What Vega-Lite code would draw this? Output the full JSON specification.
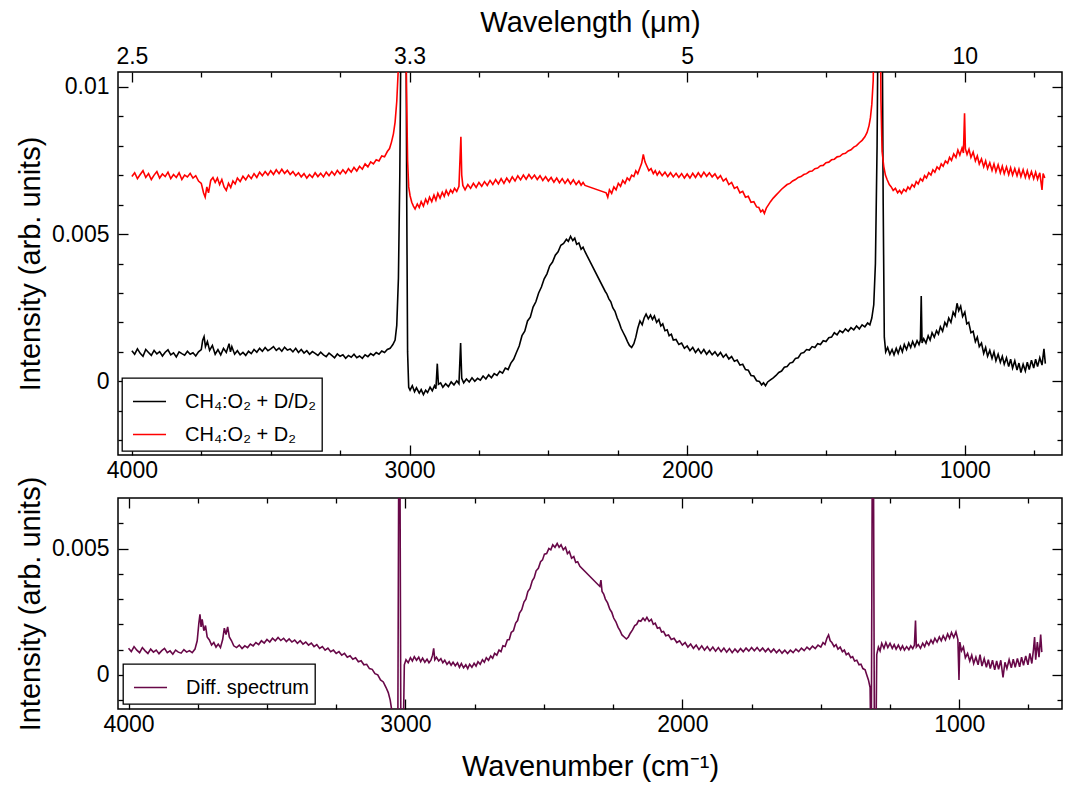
{
"$schema": "https://vega.github.io/schema/vega-lite/v6.json",
"background": "white",
"padding": {"left": 15, "top": 7, "right": 5, "bottom": 5},
"config": {
  "view": {"stroke": "black", "strokeWidth": 1.5},
  "font": "Liberation Sans",
  "axis": {"domain": false, "grid": false, "tickColor": "black", "tickWidth": 1.3, "labelColor": "black", "labelFont": "Liberation Sans", "labelFontSize": 23, "titleFont": "Liberation Sans", "titleFontSize": 29, "titleFontWeight": "normal", "titleColor": "black", "labelFlush": false, "labelOverlap": false},
  "legend": {"orient": "bottom-left", "offset": 4, "strokeColor": "black", "strokeWidth": 1.3, "fillColor": "white", "padding": 6, "symbolOffset": 4, "symbolType": "stroke", "symbolSize": 1090, "symbolStrokeWidth": 1.5, "labelFont": "Liberation Sans", "labelFontSize": 20, "labelColor": "black", "labelLimit": 400, "labelOffset": 18, "rowPadding": 5, "cornerRadius": 0}
},
"datasets": {
"black": [
{"w":4000,"v":0.00104},{"w":3990,"v":0.00092},{"w":3980,"v":0.00110},{"w":3970,"v":0.00095},{"w":3960,"v":0.00085},{"w":3950,"v":0.00108},{"w":3940,"v":0.00098},{"w":3930,"v":0.00088},{"w":3920,"v":0.00105},{"w":3910,"v":0.00093},{"w":3900,"v":0.00101},{"w":3890,"v":0.00086},{"w":3880,"v":0.00099},{"w":3870,"v":0.00107},{"w":3860,"v":0.00090},{"w":3850,"v":0.00097},{"w":3840,"v":0.00083},{"w":3830,"v":0.00100},{"w":3820,"v":0.00094},{"w":3810,"v":0.00089},{"w":3800,"v":0.00102},{"w":3790,"v":0.00092},{"w":3780,"v":0.00097},{"w":3770,"v":0.00086},{"w":3760,"v":0.00100},{"w":3750,"v":0.00108},{"w":3745,"v":0.00140},{"w":3740,"v":0.00152},{"w":3735,"v":0.00118},{"w":3728,"v":0.00135},{"w":3720,"v":0.00105},{"w":3710,"v":0.00122},{"w":3700,"v":0.00092},{"w":3690,"v":0.00108},{"w":3680,"v":0.00090},{"w":3670,"v":0.00112},{"w":3660,"v":0.00098},{"w":3650,"v":0.00128},{"w":3645,"v":0.00100},{"w":3640,"v":0.00118},{"w":3630,"v":0.00092},{"w":3620,"v":0.00104},{"w":3610,"v":0.00090},{"w":3600,"v":0.00098},{"w":3590,"v":0.00088},{"w":3580,"v":0.00102},{"w":3570,"v":0.00094},{"w":3560,"v":0.00108},{"w":3550,"v":0.00099},{"w":3540,"v":0.00112},{"w":3530,"v":0.00102},{"w":3520,"v":0.00115},{"w":3510,"v":0.00104},{"w":3500,"v":0.00110},{"w":3490,"v":0.00118},{"w":3480,"v":0.00105},{"w":3470,"v":0.00113},{"w":3460,"v":0.00102},{"w":3450,"v":0.00116},{"w":3440,"v":0.00106},{"w":3430,"v":0.00110},{"w":3420,"v":0.00100},{"w":3410,"v":0.00112},{"w":3400,"v":0.00098},{"w":3390,"v":0.00108},{"w":3380,"v":0.00096},{"w":3370,"v":0.00104},{"w":3360,"v":0.00092},{"w":3350,"v":0.00101},{"w":3340,"v":0.00095},{"w":3330,"v":0.00088},{"w":3320,"v":0.00099},{"w":3310,"v":0.00090},{"w":3300,"v":0.00084},{"w":3290,"v":0.00096},{"w":3280,"v":0.00088},{"w":3270,"v":0.00080},{"w":3260,"v":0.00093},{"w":3250,"v":0.00085},{"w":3240,"v":0.00090},{"w":3230,"v":0.00078},{"w":3220,"v":0.00088},{"w":3210,"v":0.00082},{"w":3200,"v":0.00092},{"w":3190,"v":0.00080},{"w":3180,"v":0.00086},{"w":3170,"v":0.00078},{"w":3160,"v":0.00090},{"w":3150,"v":0.00084},{"w":3140,"v":0.00094},{"w":3130,"v":0.00088},{"w":3120,"v":0.00098},{"w":3110,"v":0.00092},{"w":3100,"v":0.00103},{"w":3090,"v":0.00098},{"w":3080,"v":0.00108},{"w":3070,"v":0.00112},{"w":3060,"v":0.00125},{"w":3052,"v":0.00140},{"w":3046,"v":0.00190},{"w":3040,"v":0.00350},{"w":3035,"v":0.00700},{"w":3030,"v":0.01300},{"w":3024,"v":0.02000},{"w":3018,"v":0.02000},{"w":3013,"v":0.01300},{"w":3010,"v":0.00600},{"w":3007,"v":0.00100},{"w":3003,"v":-0.00020},{"w":2998,"v":-0.00030},{"w":2990,"v":-0.00015},{"w":2982,"v":-0.00035},{"w":2975,"v":-0.00022},{"w":2965,"v":-0.00040},{"w":2958,"v":-0.00028},{"w":2950,"v":-0.00045},{"w":2942,"v":-0.00030},{"w":2935,"v":-0.00038},{"w":2926,"v":-0.00020},{"w":2918,"v":-0.00032},{"w":2910,"v":-0.00015},{"w":2905,"v":-0.00025},{"w":2900,"v":0.00060},{"w":2896,"v":-0.00010},{"w":2888,"v":-0.00005},{"w":2880,"v":-0.00020},{"w":2870,"v":-0.00008},{"w":2860,"v":-0.00018},{"w":2850,"v":-0.00002},{"w":2840,"v":-0.00012},{"w":2830,"v":0.00002},{"w":2822,"v":-0.00008},{"w":2816,"v":0.00130},{"w":2812,"v":0.00010},{"w":2805,"v":-0.00005},{"w":2795,"v":0.00008},{"w":2785,"v":-0.00002},{"w":2775,"v":0.00012},{"w":2765,"v":0.00000},{"w":2755,"v":0.00010},{"w":2745,"v":0.00004},{"w":2735,"v":0.00018},{"w":2725,"v":0.00008},{"w":2715,"v":0.00022},{"w":2705,"v":0.00012},{"w":2695,"v":0.00026},{"w":2685,"v":0.00020},{"w":2675,"v":0.00034},{"w":2665,"v":0.00028},{"w":2655,"v":0.00045},{"w":2645,"v":0.00040},{"w":2635,"v":0.00062},{"w":2625,"v":0.00075},{"w":2615,"v":0.00098},{"w":2605,"v":0.00120},{"w":2595,"v":0.00155},{"w":2585,"v":0.00170},{"w":2575,"v":0.00205},{"w":2565,"v":0.00218},{"w":2555,"v":0.00252},{"w":2545,"v":0.00270},{"w":2535,"v":0.00300},{"w":2525,"v":0.00320},{"w":2515,"v":0.00348},{"w":2505,"v":0.00365},{"w":2495,"v":0.00392},{"w":2485,"v":0.00405},{"w":2475,"v":0.00428},{"w":2465,"v":0.00440},{"w":2455,"v":0.00462},{"w":2445,"v":0.00468},{"w":2435,"v":0.00482},{"w":2428,"v":0.00475},{"w":2420,"v":0.00492},{"w":2412,"v":0.00478},{"w":2405,"v":0.00486},{"w":2398,"v":0.00465},{"w":2390,"v":0.00470},{"w":2382,"v":0.00448},{"w":2375,"v":0.00455},{"w":2368,"v":0.00440},{"w":2295,"v":0.00305},{"w":2290,"v":0.00298},{"w":2282,"v":0.00280},{"w":2275,"v":0.00270},{"w":2268,"v":0.00250},{"w":2260,"v":0.00238},{"w":2252,"v":0.00215},{"w":2245,"v":0.00200},{"w":2238,"v":0.00180},{"w":2230,"v":0.00165},{"w":2222,"v":0.00150},{"w":2215,"v":0.00135},{"w":2208,"v":0.00122},{"w":2200,"v":0.00115},{"w":2192,"v":0.00128},{"w":2185,"v":0.00150},{"w":2178,"v":0.00180},{"w":2170,"v":0.00205},{"w":2162,"v":0.00192},{"w":2155,"v":0.00215},{"w":2148,"v":0.00228},{"w":2140,"v":0.00212},{"w":2132,"v":0.00225},{"w":2125,"v":0.00210},{"w":2118,"v":0.00222},{"w":2110,"v":0.00200},{"w":2102,"v":0.00210},{"w":2095,"v":0.00188},{"w":2088,"v":0.00195},{"w":2080,"v":0.00172},{"w":2072,"v":0.00175},{"w":2065,"v":0.00155},{"w":2057,"v":0.00160},{"w":2050,"v":0.00140},{"w":2040,"v":0.00142},{"w":2030,"v":0.00125},{"w":2020,"v":0.00130},{"w":2010,"v":0.00112},{"w":2000,"v":0.00120},{"w":1990,"v":0.00104},{"w":1980,"v":0.00115},{"w":1970,"v":0.00098},{"w":1960,"v":0.00110},{"w":1950,"v":0.00095},{"w":1940,"v":0.00108},{"w":1930,"v":0.00092},{"w":1920,"v":0.00104},{"w":1910,"v":0.00090},{"w":1900,"v":0.00100},{"w":1890,"v":0.00086},{"w":1880,"v":0.00098},{"w":1870,"v":0.00082},{"w":1860,"v":0.00092},{"w":1850,"v":0.00076},{"w":1840,"v":0.00084},{"w":1830,"v":0.00068},{"w":1820,"v":0.00072},{"w":1810,"v":0.00055},{"w":1800,"v":0.00058},{"w":1790,"v":0.00040},{"w":1780,"v":0.00038},{"w":1770,"v":0.00020},{"w":1760,"v":0.00018},{"w":1750,"v":0.00002},{"w":1740,"v":0.00000},{"w":1732,"v":-0.00012},{"w":1725,"v":-0.00005},{"w":1718,"v":-0.00015},{"w":1710,"v":-0.00002},{"w":1700,"v":0.00005},{"w":1690,"v":0.00012},{"w":1680,"v":0.00020},{"w":1670,"v":0.00030},{"w":1660,"v":0.00035},{"w":1650,"v":0.00048},{"w":1640,"v":0.00050},{"w":1630,"v":0.00062},{"w":1620,"v":0.00065},{"w":1610,"v":0.00078},{"w":1600,"v":0.00080},{"w":1590,"v":0.00095},{"w":1580,"v":0.00098},{"w":1570,"v":0.00108},{"w":1560,"v":0.00106},{"w":1550,"v":0.00118},{"w":1540,"v":0.00115},{"w":1530,"v":0.00128},{"w":1520,"v":0.00125},{"w":1510,"v":0.00138},{"w":1500,"v":0.00135},{"w":1490,"v":0.00148},{"w":1480,"v":0.00150},{"w":1470,"v":0.00165},{"w":1460,"v":0.00158},{"w":1450,"v":0.00172},{"w":1440,"v":0.00165},{"w":1430,"v":0.00178},{"w":1420,"v":0.00170},{"w":1410,"v":0.00182},{"w":1400,"v":0.00175},{"w":1390,"v":0.00188},{"w":1380,"v":0.00178},{"w":1370,"v":0.00192},{"w":1360,"v":0.00185},{"w":1350,"v":0.00198},{"w":1342,"v":0.00192},{"w":1335,"v":0.00215},{"w":1328,"v":0.00260},{"w":1322,"v":0.00400},{"w":1316,"v":0.00800},{"w":1312,"v":0.01300},{"w":1308,"v":0.02000},{"w":1302,"v":0.02000},{"w":1298,"v":0.01300},{"w":1294,"v":0.00600},{"w":1290,"v":0.00150},{"w":1285,"v":0.00100},{"w":1278,"v":0.00115},{"w":1270,"v":0.00092},{"w":1262,"v":0.00108},{"w":1255,"v":0.00090},{"w":1247,"v":0.00112},{"w":1240,"v":0.00095},{"w":1232,"v":0.00118},{"w":1225,"v":0.00100},{"w":1218,"v":0.00125},{"w":1210,"v":0.00108},{"w":1202,"v":0.00130},{"w":1195,"v":0.00115},{"w":1188,"v":0.00135},{"w":1180,"v":0.00118},{"w":1172,"v":0.00138},{"w":1165,"v":0.00125},{"w":1160,"v":0.00140},{"w":1157,"v":0.00290},{"w":1154,"v":0.00130},{"w":1148,"v":0.00145},{"w":1140,"v":0.00130},{"w":1132,"v":0.00155},{"w":1125,"v":0.00140},{"w":1118,"v":0.00165},{"w":1110,"v":0.00150},{"w":1102,"v":0.00172},{"w":1095,"v":0.00160},{"w":1088,"v":0.00185},{"w":1080,"v":0.00170},{"w":1072,"v":0.00200},{"w":1065,"v":0.00188},{"w":1058,"v":0.00215},{"w":1050,"v":0.00200},{"w":1042,"v":0.00235},{"w":1035,"v":0.00222},{"w":1028,"v":0.00265},{"w":1022,"v":0.00240},{"w":1015,"v":0.00255},{"w":1008,"v":0.00220},{"w":1000,"v":0.00235},{"w":993,"v":0.00195},{"w":986,"v":0.00200},{"w":978,"v":0.00165},{"w":970,"v":0.00170},{"w":962,"v":0.00135},{"w":955,"v":0.00150},{"w":948,"v":0.00118},{"w":940,"v":0.00130},{"w":932,"v":0.00095},{"w":925,"v":0.00115},{"w":918,"v":0.00085},{"w":910,"v":0.00105},{"w":902,"v":0.00078},{"w":895,"v":0.00100},{"w":888,"v":0.00070},{"w":880,"v":0.00092},{"w":872,"v":0.00065},{"w":865,"v":0.00085},{"w":858,"v":0.00058},{"w":850,"v":0.00080},{"w":842,"v":0.00050},{"w":835,"v":0.00075},{"w":828,"v":0.00045},{"w":820,"v":0.00070},{"w":812,"v":0.00038},{"w":805,"v":0.00062},{"w":798,"v":0.00030},{"w":790,"v":0.00058},{"w":782,"v":0.00035},{"w":775,"v":0.00065},{"w":768,"v":0.00040},{"w":760,"v":0.00072},{"w":752,"v":0.00045},{"w":745,"v":0.00075},{"w":738,"v":0.00050},{"w":730,"v":0.00080},{"w":722,"v":0.00055},{"w":715,"v":0.00110},{"w":710,"v":0.00060}
],
"red": [
{"w":4000,"v":0.00695},{"w":3990,"v":0.00708},{"w":3980,"v":0.00688},{"w":3970,"v":0.00702},{"w":3960,"v":0.00715},{"w":3950,"v":0.00692},{"w":3940,"v":0.00705},{"w":3930,"v":0.00685},{"w":3920,"v":0.00700},{"w":3910,"v":0.00712},{"w":3900,"v":0.00690},{"w":3890,"v":0.00704},{"w":3880,"v":0.00695},{"w":3870,"v":0.00710},{"w":3860,"v":0.00688},{"w":3850,"v":0.00702},{"w":3840,"v":0.00692},{"w":3830,"v":0.00708},{"w":3820,"v":0.00685},{"w":3810,"v":0.00700},{"w":3800,"v":0.00694},{"w":3790,"v":0.00706},{"w":3780,"v":0.00690},{"w":3770,"v":0.00698},{"w":3760,"v":0.00680},{"w":3750,"v":0.00672},{"w":3742,"v":0.00640},{"w":3736,"v":0.00625},{"w":3730,"v":0.00660},{"w":3724,"v":0.00640},{"w":3716,"v":0.00682},{"w":3708,"v":0.00692},{"w":3700,"v":0.00675},{"w":3692,"v":0.00690},{"w":3684,"v":0.00668},{"w":3676,"v":0.00685},{"w":3668,"v":0.00660},{"w":3660,"v":0.00648},{"w":3652,"v":0.00672},{"w":3644,"v":0.00658},{"w":3636,"v":0.00680},{"w":3628,"v":0.00670},{"w":3620,"v":0.00690},{"w":3610,"v":0.00678},{"w":3600,"v":0.00696},{"w":3590,"v":0.00684},{"w":3580,"v":0.00700},{"w":3570,"v":0.00688},{"w":3560,"v":0.00705},{"w":3550,"v":0.00692},{"w":3540,"v":0.00710},{"w":3530,"v":0.00698},{"w":3520,"v":0.00712},{"w":3510,"v":0.00700},{"w":3500,"v":0.00715},{"w":3490,"v":0.00702},{"w":3480,"v":0.00718},{"w":3470,"v":0.00705},{"w":3460,"v":0.00720},{"w":3450,"v":0.00706},{"w":3440,"v":0.00716},{"w":3430,"v":0.00702},{"w":3420,"v":0.00712},{"w":3410,"v":0.00698},{"w":3400,"v":0.00708},{"w":3390,"v":0.00694},{"w":3380,"v":0.00705},{"w":3370,"v":0.00690},{"w":3360,"v":0.00702},{"w":3350,"v":0.00692},{"w":3340,"v":0.00708},{"w":3330,"v":0.00695},{"w":3320,"v":0.00706},{"w":3310,"v":0.00694},{"w":3300,"v":0.00710},{"w":3290,"v":0.00698},{"w":3280,"v":0.00712},{"w":3270,"v":0.00700},{"w":3260,"v":0.00716},{"w":3250,"v":0.00704},{"w":3240,"v":0.00718},{"w":3230,"v":0.00706},{"w":3220,"v":0.00722},{"w":3210,"v":0.00710},{"w":3200,"v":0.00726},{"w":3190,"v":0.00714},{"w":3180,"v":0.00730},{"w":3170,"v":0.00720},{"w":3160,"v":0.00738},{"w":3150,"v":0.00728},{"w":3140,"v":0.00745},{"w":3130,"v":0.00738},{"w":3120,"v":0.00752},{"w":3110,"v":0.00748},{"w":3100,"v":0.00765},{"w":3090,"v":0.00762},{"w":3080,"v":0.00780},{"w":3072,"v":0.00790},{"w":3065,"v":0.00812},{"w":3058,"v":0.00840},{"w":3052,"v":0.00880},{"w":3046,"v":0.00950},{"w":3041,"v":0.01050},{"w":3036,"v":0.01300},{"w":3030,"v":0.02000},{"w":3022,"v":0.02000},{"w":3016,"v":0.01500},{"w":3011,"v":0.01000},{"w":3007,"v":0.00750},{"w":3003,"v":0.00660},{"w":2998,"v":0.00630},{"w":2992,"v":0.00608},{"w":2986,"v":0.00595},{"w":2980,"v":0.00585},{"w":2972,"v":0.00602},{"w":2965,"v":0.00590},{"w":2958,"v":0.00610},{"w":2950,"v":0.00595},{"w":2942,"v":0.00618},{"w":2935,"v":0.00604},{"w":2928,"v":0.00625},{"w":2920,"v":0.00610},{"w":2912,"v":0.00632},{"w":2905,"v":0.00615},{"w":2898,"v":0.00638},{"w":2890,"v":0.00622},{"w":2882,"v":0.00642},{"w":2875,"v":0.00628},{"w":2868,"v":0.00648},{"w":2860,"v":0.00632},{"w":2852,"v":0.00650},{"w":2845,"v":0.00640},{"w":2838,"v":0.00655},{"w":2830,"v":0.00645},{"w":2822,"v":0.00662},{"w":2818,"v":0.00760},{"w":2815,"v":0.00830},{"w":2812,"v":0.00700},{"w":2808,"v":0.00665},{"w":2800,"v":0.00650},{"w":2790,"v":0.00668},{"w":2780,"v":0.00655},{"w":2770,"v":0.00672},{"w":2760,"v":0.00658},{"w":2750,"v":0.00675},{"w":2740,"v":0.00662},{"w":2730,"v":0.00678},{"w":2720,"v":0.00665},{"w":2710,"v":0.00682},{"w":2700,"v":0.00668},{"w":2690,"v":0.00685},{"w":2680,"v":0.00670},{"w":2670,"v":0.00688},{"w":2660,"v":0.00672},{"w":2650,"v":0.00690},{"w":2640,"v":0.00676},{"w":2630,"v":0.00694},{"w":2620,"v":0.00680},{"w":2610,"v":0.00698},{"w":2600,"v":0.00684},{"w":2590,"v":0.00700},{"w":2580,"v":0.00686},{"w":2570,"v":0.00702},{"w":2560,"v":0.00688},{"w":2550,"v":0.00700},{"w":2540,"v":0.00685},{"w":2530,"v":0.00698},{"w":2520,"v":0.00682},{"w":2510,"v":0.00695},{"w":2500,"v":0.00680},{"w":2490,"v":0.00692},{"w":2480,"v":0.00676},{"w":2470,"v":0.00690},{"w":2460,"v":0.00674},{"w":2450,"v":0.00688},{"w":2440,"v":0.00672},{"w":2430,"v":0.00686},{"w":2420,"v":0.00670},{"w":2410,"v":0.00684},{"w":2400,"v":0.00668},{"w":2390,"v":0.00680},{"w":2382,"v":0.00666},{"w":2375,"v":0.00675},{"w":2368,"v":0.00665},{"w":2292,"v":0.00640},{"w":2286,"v":0.00625},{"w":2280,"v":0.00650},{"w":2272,"v":0.00638},{"w":2264,"v":0.00660},{"w":2256,"v":0.00650},{"w":2248,"v":0.00672},{"w":2240,"v":0.00662},{"w":2232,"v":0.00682},{"w":2224,"v":0.00672},{"w":2216,"v":0.00690},{"w":2208,"v":0.00682},{"w":2200,"v":0.00700},{"w":2192,"v":0.00695},{"w":2185,"v":0.00715},{"w":2178,"v":0.00705},{"w":2170,"v":0.00725},{"w":2164,"v":0.00740},{"w":2158,"v":0.00770},{"w":2152,"v":0.00745},{"w":2145,"v":0.00730},{"w":2138,"v":0.00715},{"w":2130,"v":0.00722},{"w":2122,"v":0.00705},{"w":2115,"v":0.00715},{"w":2108,"v":0.00700},{"w":2100,"v":0.00712},{"w":2090,"v":0.00698},{"w":2080,"v":0.00710},{"w":2070,"v":0.00695},{"w":2060,"v":0.00708},{"w":2050,"v":0.00694},{"w":2040,"v":0.00706},{"w":2030,"v":0.00692},{"w":2020,"v":0.00705},{"w":2010,"v":0.00690},{"w":2000,"v":0.00704},{"w":1990,"v":0.00690},{"w":1980,"v":0.00706},{"w":1970,"v":0.00692},{"w":1960,"v":0.00708},{"w":1950,"v":0.00694},{"w":1940,"v":0.00710},{"w":1930,"v":0.00696},{"w":1920,"v":0.00708},{"w":1910,"v":0.00694},{"w":1900,"v":0.00704},{"w":1890,"v":0.00688},{"w":1880,"v":0.00698},{"w":1870,"v":0.00680},{"w":1860,"v":0.00688},{"w":1850,"v":0.00668},{"w":1840,"v":0.00675},{"w":1830,"v":0.00655},{"w":1820,"v":0.00660},{"w":1810,"v":0.00640},{"w":1800,"v":0.00645},{"w":1790,"v":0.00625},{"w":1780,"v":0.00628},{"w":1770,"v":0.00608},{"w":1760,"v":0.00610},{"w":1750,"v":0.00592},{"w":1742,"v":0.00590},{"w":1735,"v":0.00575},{"w":1728,"v":0.00582},{"w":1722,"v":0.00570},{"w":1715,"v":0.00588},{"w":1708,"v":0.00598},{"w":1700,"v":0.00610},{"w":1690,"v":0.00622},{"w":1680,"v":0.00632},{"w":1670,"v":0.00642},{"w":1660,"v":0.00652},{"w":1650,"v":0.00660},{"w":1640,"v":0.00668},{"w":1630,"v":0.00672},{"w":1620,"v":0.00680},{"w":1610,"v":0.00685},{"w":1600,"v":0.00692},{"w":1590,"v":0.00695},{"w":1580,"v":0.00702},{"w":1570,"v":0.00705},{"w":1560,"v":0.00712},{"w":1550,"v":0.00714},{"w":1540,"v":0.00722},{"w":1530,"v":0.00724},{"w":1520,"v":0.00732},{"w":1510,"v":0.00733},{"w":1500,"v":0.00742},{"w":1490,"v":0.00744},{"w":1480,"v":0.00752},{"w":1470,"v":0.00754},{"w":1460,"v":0.00762},{"w":1450,"v":0.00764},{"w":1440,"v":0.00772},{"w":1430,"v":0.00774},{"w":1420,"v":0.00782},{"w":1410,"v":0.00786},{"w":1400,"v":0.00795},{"w":1390,"v":0.00800},{"w":1380,"v":0.00810},{"w":1370,"v":0.00818},{"w":1360,"v":0.00830},{"w":1352,"v":0.00845},{"w":1345,"v":0.00868},{"w":1340,"v":0.00895},{"w":1335,"v":0.00940},{"w":1330,"v":0.01020},{"w":1325,"v":0.01300},{"w":1320,"v":0.02000},{"w":1312,"v":0.02000},{"w":1306,"v":0.01400},{"w":1302,"v":0.00950},{"w":1298,"v":0.00780},{"w":1292,"v":0.00730},{"w":1286,"v":0.00700},{"w":1280,"v":0.00685},{"w":1272,"v":0.00668},{"w":1265,"v":0.00660},{"w":1258,"v":0.00648},{"w":1250,"v":0.00655},{"w":1242,"v":0.00640},{"w":1235,"v":0.00648},{"w":1228,"v":0.00638},{"w":1220,"v":0.00652},{"w":1212,"v":0.00645},{"w":1205,"v":0.00660},{"w":1198,"v":0.00652},{"w":1190,"v":0.00668},{"w":1182,"v":0.00660},{"w":1175,"v":0.00678},{"w":1168,"v":0.00670},{"w":1160,"v":0.00688},{"w":1152,"v":0.00680},{"w":1145,"v":0.00698},{"w":1138,"v":0.00690},{"w":1130,"v":0.00708},{"w":1122,"v":0.00700},{"w":1115,"v":0.00718},{"w":1108,"v":0.00710},{"w":1100,"v":0.00728},{"w":1092,"v":0.00720},{"w":1085,"v":0.00738},{"w":1078,"v":0.00730},{"w":1070,"v":0.00748},{"w":1062,"v":0.00740},{"w":1055,"v":0.00760},{"w":1048,"v":0.00750},{"w":1040,"v":0.00772},{"w":1032,"v":0.00760},{"w":1025,"v":0.00785},{"w":1018,"v":0.00768},{"w":1010,"v":0.00792},{"w":1005,"v":0.00775},{"w":1001,"v":0.00910},{"w":998,"v":0.00790},{"w":992,"v":0.00770},{"w":985,"v":0.00788},{"w":978,"v":0.00760},{"w":970,"v":0.00778},{"w":962,"v":0.00748},{"w":955,"v":0.00765},{"w":948,"v":0.00738},{"w":940,"v":0.00755},{"w":932,"v":0.00728},{"w":925,"v":0.00748},{"w":918,"v":0.00722},{"w":910,"v":0.00742},{"w":902,"v":0.00716},{"w":895,"v":0.00738},{"w":888,"v":0.00712},{"w":880,"v":0.00735},{"w":872,"v":0.00708},{"w":865,"v":0.00730},{"w":858,"v":0.00705},{"w":850,"v":0.00728},{"w":842,"v":0.00702},{"w":835,"v":0.00725},{"w":828,"v":0.00700},{"w":820,"v":0.00722},{"w":812,"v":0.00698},{"w":805,"v":0.00720},{"w":798,"v":0.00695},{"w":790,"v":0.00718},{"w":782,"v":0.00692},{"w":775,"v":0.00715},{"w":768,"v":0.00690},{"w":760,"v":0.00712},{"w":752,"v":0.00688},{"w":745,"v":0.00710},{"w":738,"v":0.00686},{"w":730,"v":0.00708},{"w":722,"v":0.00650},{"w":718,"v":0.00705},{"w":712,"v":0.00690}
],
"diff": [
{"w":4000,"v":0.00105},{"w":3990,"v":0.00092},{"w":3980,"v":0.00112},{"w":3970,"v":0.00098},{"w":3960,"v":0.00088},{"w":3950,"v":0.00108},{"w":3940,"v":0.00095},{"w":3930,"v":0.00085},{"w":3920,"v":0.00102},{"w":3910,"v":0.00090},{"w":3900,"v":0.00098},{"w":3890,"v":0.00084},{"w":3880,"v":0.00096},{"w":3870,"v":0.00105},{"w":3860,"v":0.00088},{"w":3850,"v":0.00095},{"w":3840,"v":0.00082},{"w":3830,"v":0.00098},{"w":3820,"v":0.00090},{"w":3810,"v":0.00086},{"w":3800,"v":0.00100},{"w":3790,"v":0.00090},{"w":3780,"v":0.00096},{"w":3770,"v":0.00088},{"w":3760,"v":0.00102},{"w":3752,"v":0.00135},{"w":3746,"v":0.00205},{"w":3742,"v":0.00240},{"w":3738,"v":0.00190},{"w":3734,"v":0.00220},{"w":3728,"v":0.00175},{"w":3722,"v":0.00195},{"w":3716,"v":0.00150},{"w":3708,"v":0.00138},{"w":3700,"v":0.00118},{"w":3692,"v":0.00128},{"w":3684,"v":0.00110},{"w":3676,"v":0.00122},{"w":3668,"v":0.00108},{"w":3660,"v":0.00140},{"w":3654,"v":0.00185},{"w":3648,"v":0.00160},{"w":3642,"v":0.00190},{"w":3636,"v":0.00150},{"w":3628,"v":0.00135},{"w":3620,"v":0.00115},{"w":3610,"v":0.00108},{"w":3600,"v":0.00118},{"w":3590,"v":0.00104},{"w":3580,"v":0.00115},{"w":3570,"v":0.00108},{"w":3560,"v":0.00122},{"w":3550,"v":0.00115},{"w":3540,"v":0.00128},{"w":3530,"v":0.00120},{"w":3520,"v":0.00135},{"w":3510,"v":0.00126},{"w":3500,"v":0.00140},{"w":3490,"v":0.00130},{"w":3480,"v":0.00145},{"w":3470,"v":0.00135},{"w":3460,"v":0.00148},{"w":3450,"v":0.00136},{"w":3440,"v":0.00145},{"w":3430,"v":0.00132},{"w":3420,"v":0.00142},{"w":3410,"v":0.00130},{"w":3400,"v":0.00138},{"w":3390,"v":0.00125},{"w":3380,"v":0.00135},{"w":3370,"v":0.00122},{"w":3360,"v":0.00130},{"w":3350,"v":0.00118},{"w":3340,"v":0.00126},{"w":3330,"v":0.00112},{"w":3320,"v":0.00120},{"w":3310,"v":0.00105},{"w":3300,"v":0.00112},{"w":3290,"v":0.00098},{"w":3280,"v":0.00106},{"w":3270,"v":0.00092},{"w":3260,"v":0.00098},{"w":3250,"v":0.00085},{"w":3240,"v":0.00092},{"w":3230,"v":0.00078},{"w":3220,"v":0.00085},{"w":3210,"v":0.00070},{"w":3200,"v":0.00076},{"w":3190,"v":0.00062},{"w":3180,"v":0.00068},{"w":3170,"v":0.00052},{"w":3160,"v":0.00056},{"w":3150,"v":0.00040},{"w":3140,"v":0.00042},{"w":3130,"v":0.00025},{"w":3120,"v":0.00022},{"w":3110,"v":0.00005},{"w":3100,"v":0.00000},{"w":3090,"v":-0.00020},{"w":3080,"v":-0.00028},{"w":3070,"v":-0.00050},{"w":3062,"v":-0.00070},{"w":3055,"v":-0.00100},{"w":3048,"v":-0.00150},{"w":3042,"v":-0.00250},{"w":3036,"v":-0.00400},{"w":3028,"v":-0.00400},{"w":3024,"v":0.00900},{"w":3020,"v":0.00900},{"w":3016,"v":-0.00400},{"w":3010,"v":-0.00400},{"w":3004,"v":0.00040},{"w":2998,"v":0.00060},{"w":2990,"v":0.00048},{"w":2982,"v":0.00068},{"w":2975,"v":0.00055},{"w":2968,"v":0.00072},{"w":2960,"v":0.00058},{"w":2952,"v":0.00070},{"w":2945,"v":0.00052},{"w":2938,"v":0.00066},{"w":2930,"v":0.00050},{"w":2922,"v":0.00062},{"w":2915,"v":0.00048},{"w":2908,"v":0.00058},{"w":2902,"v":0.00078},{"w":2898,"v":0.00105},{"w":2894,"v":0.00060},{"w":2888,"v":0.00070},{"w":2880,"v":0.00055},{"w":2872,"v":0.00064},{"w":2865,"v":0.00048},{"w":2858,"v":0.00058},{"w":2850,"v":0.00042},{"w":2842,"v":0.00052},{"w":2835,"v":0.00038},{"w":2828,"v":0.00050},{"w":2820,"v":0.00036},{"w":2812,"v":0.00048},{"w":2805,"v":0.00030},{"w":2798,"v":0.00045},{"w":2790,"v":0.00028},{"w":2782,"v":0.00040},{"w":2775,"v":0.00025},{"w":2768,"v":0.00042},{"w":2760,"v":0.00030},{"w":2752,"v":0.00046},{"w":2745,"v":0.00035},{"w":2738,"v":0.00052},{"w":2730,"v":0.00042},{"w":2722,"v":0.00060},{"w":2715,"v":0.00050},{"w":2708,"v":0.00068},{"w":2700,"v":0.00058},{"w":2692,"v":0.00075},{"w":2685,"v":0.00066},{"w":2678,"v":0.00085},{"w":2670,"v":0.00078},{"w":2662,"v":0.00098},{"w":2655,"v":0.00092},{"w":2648,"v":0.00115},{"w":2640,"v":0.00112},{"w":2632,"v":0.00138},{"w":2625,"v":0.00140},{"w":2618,"v":0.00168},{"w":2610,"v":0.00175},{"w":2602,"v":0.00205},{"w":2595,"v":0.00215},{"w":2588,"v":0.00245},{"w":2580,"v":0.00258},{"w":2572,"v":0.00288},{"w":2565,"v":0.00300},{"w":2558,"v":0.00330},{"w":2550,"v":0.00342},{"w":2542,"v":0.00372},{"w":2535,"v":0.00385},{"w":2528,"v":0.00412},{"w":2520,"v":0.00422},{"w":2512,"v":0.00448},{"w":2505,"v":0.00455},{"w":2498,"v":0.00478},{"w":2490,"v":0.00480},{"w":2482,"v":0.00500},{"w":2475,"v":0.00495},{"w":2468,"v":0.00515},{"w":2460,"v":0.00505},{"w":2452,"v":0.00520},{"w":2445,"v":0.00505},{"w":2438,"v":0.00515},{"w":2430,"v":0.00495},{"w":2422,"v":0.00505},{"w":2415,"v":0.00480},{"w":2408,"v":0.00488},{"w":2400,"v":0.00462},{"w":2392,"v":0.00468},{"w":2385,"v":0.00445},{"w":2378,"v":0.00448},{"w":2370,"v":0.00430},{"w":2298,"v":0.00350},{"w":2294,"v":0.00375},{"w":2290,"v":0.00330},{"w":2284,"v":0.00320},{"w":2278,"v":0.00300},{"w":2270,"v":0.00285},{"w":2262,"v":0.00260},{"w":2255,"v":0.00248},{"w":2248,"v":0.00225},{"w":2240,"v":0.00210},{"w":2232,"v":0.00188},{"w":2225,"v":0.00175},{"w":2218,"v":0.00158},{"w":2210,"v":0.00150},{"w":2202,"v":0.00142},{"w":2195,"v":0.00150},{"w":2188,"v":0.00165},{"w":2180,"v":0.00178},{"w":2172,"v":0.00195},{"w":2165,"v":0.00200},{"w":2158,"v":0.00215},{"w":2150,"v":0.00212},{"w":2142,"v":0.00225},{"w":2135,"v":0.00215},{"w":2128,"v":0.00228},{"w":2120,"v":0.00212},{"w":2112,"v":0.00220},{"w":2105,"v":0.00200},{"w":2098,"v":0.00205},{"w":2090,"v":0.00185},{"w":2082,"v":0.00188},{"w":2075,"v":0.00170},{"w":2068,"v":0.00172},{"w":2060,"v":0.00155},{"w":2050,"v":0.00158},{"w":2040,"v":0.00140},{"w":2030,"v":0.00145},{"w":2020,"v":0.00128},{"w":2010,"v":0.00135},{"w":2000,"v":0.00118},{"w":1990,"v":0.00128},{"w":1980,"v":0.00110},{"w":1970,"v":0.00122},{"w":1960,"v":0.00105},{"w":1950,"v":0.00118},{"w":1940,"v":0.00100},{"w":1930,"v":0.00115},{"w":1920,"v":0.00098},{"w":1910,"v":0.00112},{"w":1900,"v":0.00096},{"w":1890,"v":0.00110},{"w":1880,"v":0.00094},{"w":1870,"v":0.00108},{"w":1860,"v":0.00092},{"w":1850,"v":0.00106},{"w":1840,"v":0.00090},{"w":1830,"v":0.00104},{"w":1820,"v":0.00088},{"w":1810,"v":0.00102},{"w":1800,"v":0.00090},{"w":1790,"v":0.00104},{"w":1780,"v":0.00092},{"w":1770,"v":0.00106},{"w":1760,"v":0.00094},{"w":1750,"v":0.00108},{"w":1740,"v":0.00095},{"w":1730,"v":0.00108},{"w":1720,"v":0.00094},{"w":1710,"v":0.00106},{"w":1700,"v":0.00092},{"w":1690,"v":0.00104},{"w":1680,"v":0.00090},{"w":1670,"v":0.00102},{"w":1660,"v":0.00088},{"w":1650,"v":0.00100},{"w":1640,"v":0.00086},{"w":1630,"v":0.00098},{"w":1620,"v":0.00085},{"w":1610,"v":0.00098},{"w":1600,"v":0.00088},{"w":1590,"v":0.00102},{"w":1580,"v":0.00092},{"w":1570,"v":0.00106},{"w":1560,"v":0.00096},{"w":1550,"v":0.00110},{"w":1540,"v":0.00100},{"w":1530,"v":0.00114},{"w":1520,"v":0.00104},{"w":1510,"v":0.00118},{"w":1500,"v":0.00110},{"w":1492,"v":0.00128},{"w":1485,"v":0.00120},{"w":1478,"v":0.00145},{"w":1472,"v":0.00158},{"w":1466,"v":0.00135},{"w":1460,"v":0.00128},{"w":1452,"v":0.00112},{"w":1445,"v":0.00120},{"w":1438,"v":0.00102},{"w":1430,"v":0.00110},{"w":1422,"v":0.00092},{"w":1415,"v":0.00098},{"w":1408,"v":0.00080},{"w":1400,"v":0.00086},{"w":1392,"v":0.00068},{"w":1385,"v":0.00072},{"w":1378,"v":0.00055},{"w":1370,"v":0.00058},{"w":1362,"v":0.00040},{"w":1355,"v":0.00042},{"w":1348,"v":0.00025},{"w":1340,"v":0.00020},{"w":1334,"v":0.00000},{"w":1328,"v":-0.00020},{"w":1322,"v":-0.00050},{"w":1318,"v":-0.00400},{"w":1314,"v":0.00900},{"w":1310,"v":0.00900},{"w":1306,"v":-0.00400},{"w":1302,"v":-0.00400},{"w":1298,"v":0.00080},{"w":1292,"v":0.00110},{"w":1286,"v":0.00095},{"w":1280,"v":0.00125},{"w":1272,"v":0.00105},{"w":1265,"v":0.00128},{"w":1258,"v":0.00108},{"w":1250,"v":0.00125},{"w":1242,"v":0.00105},{"w":1235,"v":0.00120},{"w":1228,"v":0.00102},{"w":1220,"v":0.00118},{"w":1212,"v":0.00100},{"w":1205,"v":0.00115},{"w":1198,"v":0.00098},{"w":1190,"v":0.00112},{"w":1182,"v":0.00100},{"w":1175,"v":0.00115},{"w":1168,"v":0.00104},{"w":1162,"v":0.00118},{"w":1158,"v":0.00215},{"w":1155,"v":0.00110},{"w":1148,"v":0.00120},{"w":1140,"v":0.00105},{"w":1132,"v":0.00125},{"w":1125,"v":0.00112},{"w":1118,"v":0.00132},{"w":1110,"v":0.00118},{"w":1102,"v":0.00138},{"w":1095,"v":0.00125},{"w":1088,"v":0.00145},{"w":1080,"v":0.00130},{"w":1072,"v":0.00150},{"w":1065,"v":0.00135},{"w":1058,"v":0.00155},{"w":1050,"v":0.00138},{"w":1042,"v":0.00162},{"w":1035,"v":0.00145},{"w":1028,"v":0.00168},{"w":1020,"v":0.00148},{"w":1012,"v":0.00170},{"w":1005,"v":0.00140},{"w":1001,"v":-0.00020},{"w":998,"v":0.00130},{"w":992,"v":0.00095},{"w":985,"v":0.00110},{"w":978,"v":0.00068},{"w":970,"v":0.00085},{"w":962,"v":0.00055},{"w":955,"v":0.00078},{"w":948,"v":0.00045},{"w":940,"v":0.00070},{"w":932,"v":0.00040},{"w":925,"v":0.00080},{"w":918,"v":0.00035},{"w":910,"v":0.00065},{"w":902,"v":0.00030},{"w":895,"v":0.00060},{"w":888,"v":0.00025},{"w":880,"v":0.00058},{"w":872,"v":0.00020},{"w":865,"v":0.00055},{"w":858,"v":0.00022},{"w":850,"v":0.00058},{"w":842,"v":-0.00010},{"w":835,"v":0.00050},{"w":828,"v":0.00025},{"w":820,"v":0.00060},{"w":812,"v":0.00028},{"w":805,"v":0.00062},{"w":798,"v":0.00030},{"w":790,"v":0.00065},{"w":782,"v":0.00032},{"w":775,"v":0.00070},{"w":768,"v":0.00038},{"w":760,"v":0.00075},{"w":752,"v":0.00040},{"w":745,"v":0.00085},{"w":738,"v":0.00045},{"w":732,"v":0.00100},{"w":728,"v":0.00150},{"w":724,"v":0.00060},{"w":718,"v":0.00130},{"w":712,"v":0.00070},{"w":706,"v":0.00160},{"w":702,"v":0.00090}
],
"anchor": [{"w":2000,"v":0}]
},
"resolve": {"scale": {"color": "independent"}},
"spacing": -8,
"vconcat": [
{
  "width": 944, "height": 383,
  "layer": [
    {"data": {"name": "black"}, "mark": {"type": "line", "clip": true, "strokeWidth": 1.6},
     "encoding": {
       "x": {"field": "w", "type": "quantitative", "scale": {"domain": [650, 4050], "reverse": true, "nice": false, "zero": false},
             "axis": {"orient": "bottom", "values": [4000, 3000, 2000, 1000], "format": "d", "title": null, "tickSize": -10, "labelPadding": 14}},
       "y": {"field": "v", "type": "quantitative", "scale": {"domain": [-0.0025, 0.0105], "nice": false, "zero": false},
             "axis": {"orient": "left", "values": [0, 0.005, 0.01], "labelExpr": "datum.value == 0 ? '0' : datum.value < 0.007 ? '0.005' : '0.01'", "title": "Intensity (arb. units)", "tickSize": -10, "labelPadding": 19, "titlePadding": 6}},
       "color": {"datum": "CH₄:O₂ + D/D₂", "type": "nominal", "scale": {"domain": ["CH₄:O₂ + D/D₂", "CH₄:O₂ + D₂"], "range": ["#000000", "#ff0000"]}, "legend": {"title": null}}
     }},
    {"data": {"name": "red"}, "mark": {"type": "line", "clip": true, "strokeWidth": 1.6},
     "encoding": {
       "x": {"field": "w", "type": "quantitative", "scale": {"domain": [650, 4050], "reverse": true, "nice": false, "zero": false}, "axis": null},
       "y": {"field": "v", "type": "quantitative", "scale": {"domain": [-0.0025, 0.0105], "nice": false, "zero": false}, "axis": null},
       "color": {"datum": "CH₄:O₂ + D₂", "type": "nominal", "scale": {"domain": ["CH₄:O₂ + D/D₂", "CH₄:O₂ + D₂"], "range": ["#000000", "#ff0000"]}, "legend": {"title": null}}
     }},
    {"data": {"name": "anchor"}, "mark": {"type": "point", "opacity": 0},
     "encoding": {
       "x": {"field": "w", "type": "quantitative", "scale": {"domain": [650, 4050], "reverse": true, "nice": false, "zero": false},
             "axis": {"orient": "bottom", "values": [3750, 3500, 3250, 2750, 2500, 2250, 1750, 1500, 1250, 750], "labels": false, "title": null, "tickSize": -5}},
       "y": {"field": "v", "type": "quantitative", "scale": {"domain": [-0.0025, 0.0105], "nice": false, "zero": false},
             "axis": {"orient": "left", "values": [-0.002, -0.001, 0.001, 0.002, 0.003, 0.004, 0.006, 0.007, 0.008, 0.009], "labels": false, "title": null, "tickSize": -5}}
     }},
    {"data": {"name": "anchor"}, "mark": {"type": "point", "opacity": 0},
     "encoding": {
       "x": {"field": "w", "type": "quantitative", "scale": {"domain": [650, 4050], "reverse": true, "nice": false, "zero": false},
             "axis": {"orient": "top", "values": [4000, 3000, 2000, 1000], "labelExpr": "datum.value == 4000 ? '2.5' : datum.value == 3000 ? '3.3' : datum.value == 2000 ? '5' : '10'", "title": "Wavelength (μm)", "tickSize": -10, "labelPadding": 14, "titlePadding": 8}},
       "y": {"field": "v", "type": "quantitative", "scale": {"domain": [-0.0025, 0.0105], "nice": false, "zero": false},
             "axis": {"orient": "right", "values": [0, 0.005, 0.01], "labels": false, "title": null, "tickSize": -10}}
     }},
    {"data": {"name": "anchor"}, "mark": {"type": "point", "opacity": 0},
     "encoding": {
       "x": {"field": "w", "type": "quantitative", "scale": {"domain": [650, 4050], "reverse": true, "nice": false, "zero": false},
             "axis": {"orient": "top", "values": [3750, 3500, 3250, 2750, 2500, 2250, 1750, 1500, 1250, 750], "labels": false, "title": null, "tickSize": -5}},
       "y": {"field": "v", "type": "quantitative", "scale": {"domain": [-0.0025, 0.0105], "nice": false, "zero": false},
             "axis": {"orient": "right", "values": [-0.002, -0.001, 0.001, 0.002, 0.003, 0.004, 0.006, 0.007, 0.008, 0.009], "labels": false, "title": null, "tickSize": -5}}
     }}
  ],
  "resolve": {"axis": {"x": "independent", "y": "independent"}}
},
{
  "width": 944, "height": 211,
  "layer": [
    {"data": {"name": "diff"}, "mark": {"type": "line", "clip": true, "strokeWidth": 1.6},
     "encoding": {
       "x": {"field": "w", "type": "quantitative", "scale": {"domain": [629, 4038], "reverse": true, "nice": false, "zero": false},
             "axis": {"orient": "bottom", "values": [4000, 3000, 2000, 1000], "format": "d", "title": "Wavenumber (cm⁻¹)", "tickSize": -10, "labelPadding": 14, "titlePadding": 16}},
       "y": {"field": "v", "type": "quantitative", "scale": {"domain": [-0.00135, 0.007], "nice": false, "zero": false},
             "axis": {"orient": "left", "values": [0, 0.005], "labelExpr": "datum.value == 0 ? '0' : '0.005'", "title": "Intensity (arb. units)", "tickSize": -10, "labelPadding": 19, "titlePadding": 6}},
       "color": {"datum": "Diff. spectrum", "type": "nominal", "scale": {"domain": ["Diff. spectrum"], "range": ["#680848"]}, "legend": {"title": null, "offset": 5}}
     }},
    {"data": {"name": "anchor"}, "mark": {"type": "point", "opacity": 0},
     "encoding": {
       "x": {"field": "w", "type": "quantitative", "scale": {"domain": [629, 4038], "reverse": true, "nice": false, "zero": false},
             "axis": {"orient": "bottom", "values": [3750, 3500, 3250, 2750, 2500, 2250, 1750, 1500, 1250, 750], "labels": false, "title": null, "tickSize": -5}},
       "y": {"field": "v", "type": "quantitative", "scale": {"domain": [-0.00135, 0.007], "nice": false, "zero": false},
             "axis": {"orient": "left", "values": [-0.001, 0.001, 0.002, 0.003, 0.004, 0.006], "labels": false, "title": null, "tickSize": -5}}
     }},
    {"data": {"name": "anchor"}, "mark": {"type": "point", "opacity": 0},
     "encoding": {
       "x": {"field": "w", "type": "quantitative", "scale": {"domain": [629, 4038], "reverse": true, "nice": false, "zero": false},
             "axis": {"orient": "top", "values": [4000, 3000, 2000, 1000], "labels": false, "title": null, "tickSize": -10}},
       "y": {"field": "v", "type": "quantitative", "scale": {"domain": [-0.00135, 0.007], "nice": false, "zero": false},
             "axis": {"orient": "right", "values": [0, 0.005], "labels": false, "title": null, "tickSize": -10}}
     }},
    {"data": {"name": "anchor"}, "mark": {"type": "point", "opacity": 0},
     "encoding": {
       "x": {"field": "w", "type": "quantitative", "scale": {"domain": [629, 4038], "reverse": true, "nice": false, "zero": false},
             "axis": {"orient": "top", "values": [3750, 3500, 3250, 2750, 2500, 2250, 1750, 1500, 1250, 750], "labels": false, "title": null, "tickSize": -5}},
       "y": {"field": "v", "type": "quantitative", "scale": {"domain": [-0.00135, 0.007], "nice": false, "zero": false},
             "axis": {"orient": "right", "values": [-0.001, 0.001, 0.002, 0.003, 0.004, 0.006], "labels": false, "title": null, "tickSize": -5}}
     }}
  ],
  "resolve": {"axis": {"x": "independent", "y": "independent"}}
}
]
}
